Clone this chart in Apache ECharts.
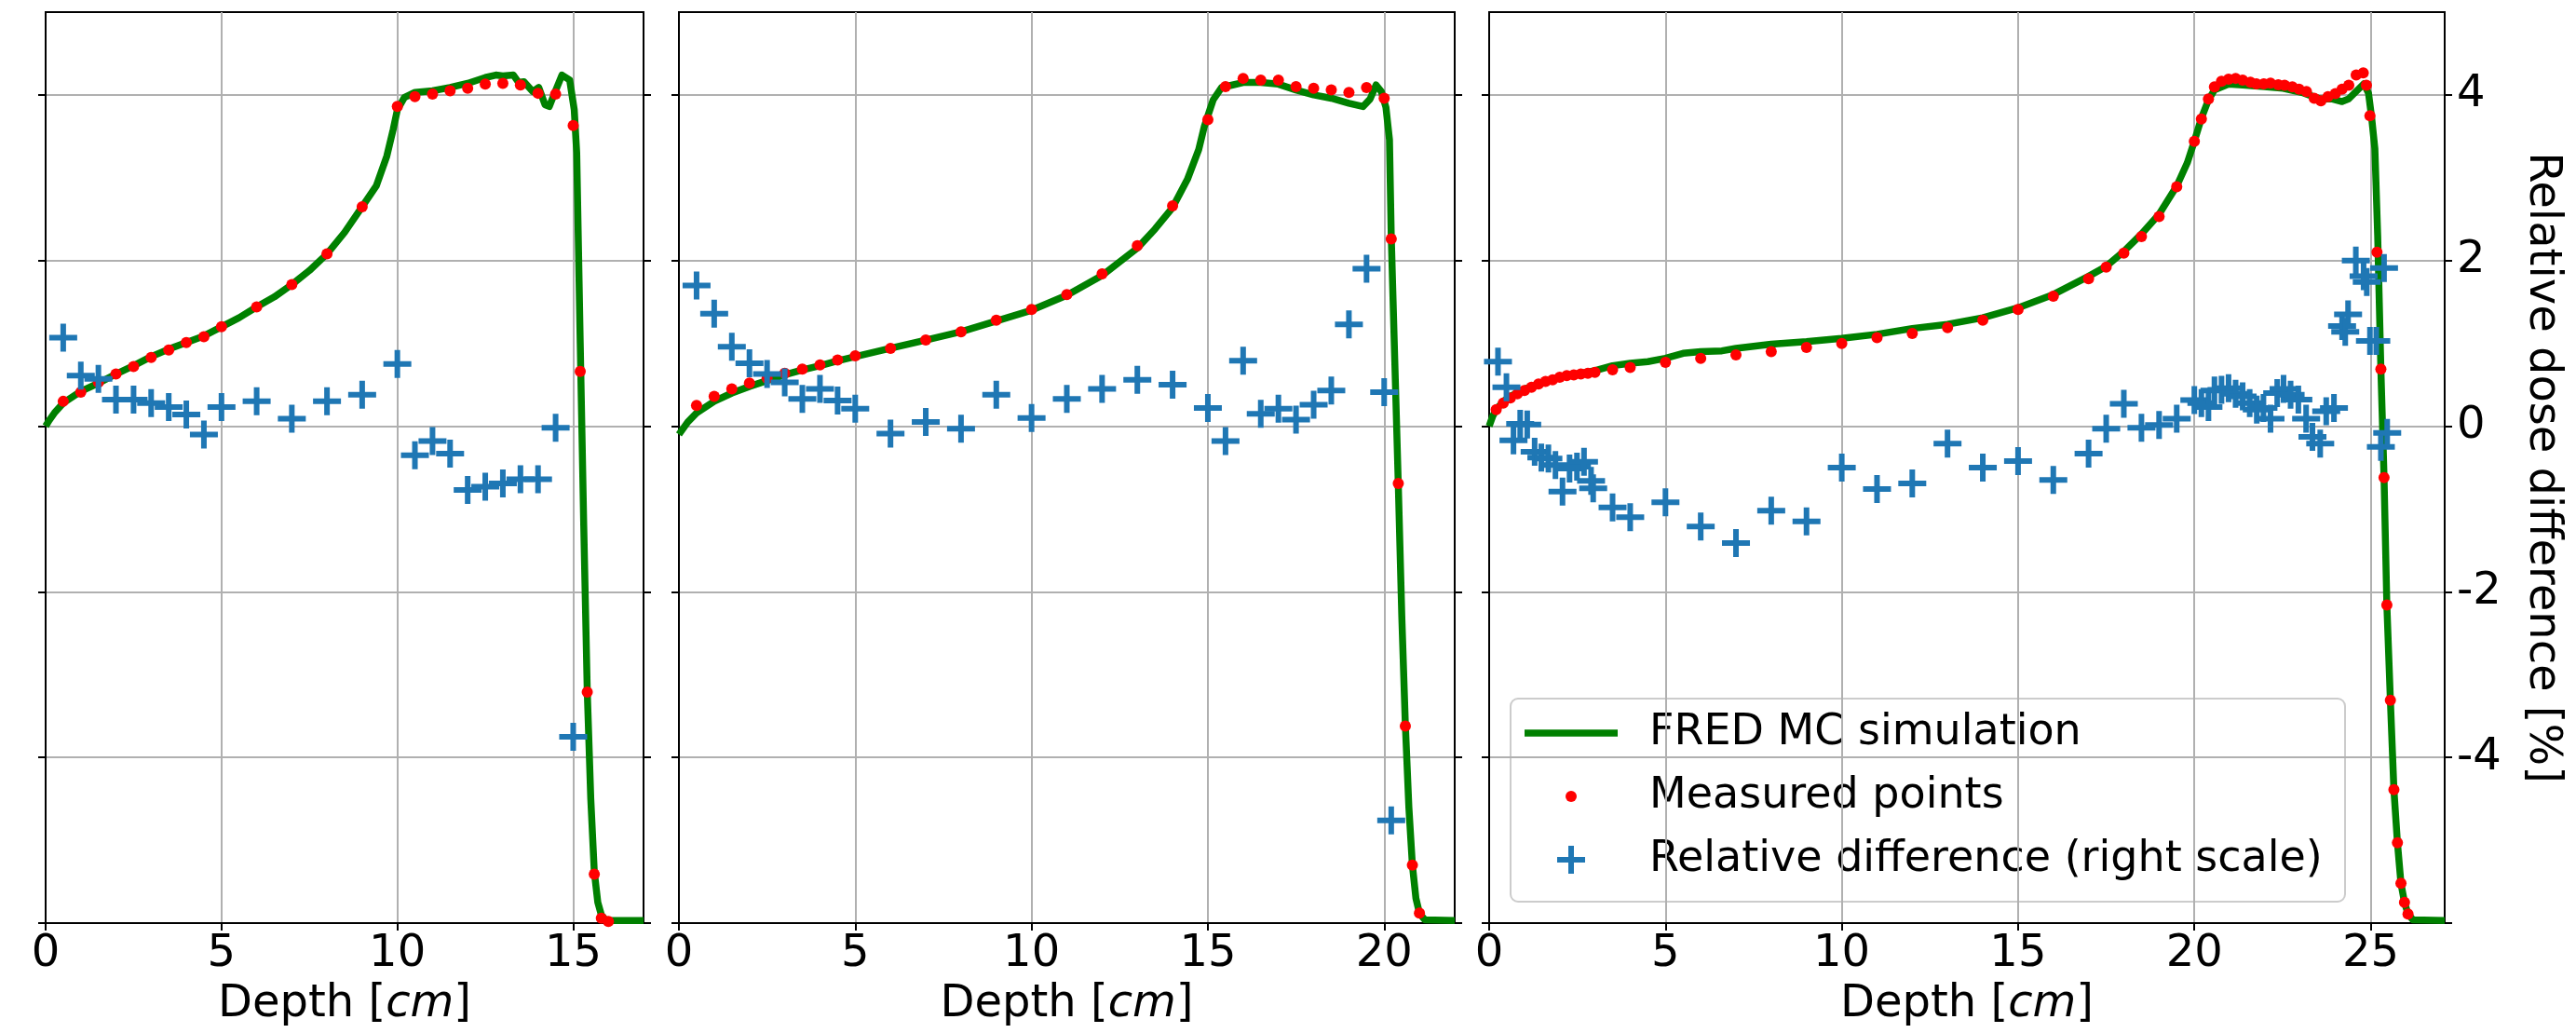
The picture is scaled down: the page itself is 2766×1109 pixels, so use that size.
<!DOCTYPE html>
<html>
<head>
<meta charset="utf-8">
<script src="https://cdn.jsdelivr.net/npm/echarts@6/dist/echarts.min.js"></script>
<style>
html,body{margin:0;padding:0;background:#fff;}
#chart{width:2766px;height:1109px;}
</style>
</head>
<body>
<div id="chart"></div>
<script>
// ---------- tick labels ----------
const p1XTicks = [0, 5, 10, 15];
const p2XTicks = [0, 5, 10, 15, 20];
const p3XTicks = [0, 5, 10, 15, 20, 25];
const doseTicks = [0, 0.2, 0.4, 0.6, 0.8, 1.0];
const diffTicks = [-6, -4, -2, 0, 2, 4];
const diffLabels = [-4, -2, 0, 2, 4];
const xMax = [17, 22, 27.1];

// ---------- panel 1 ----------
const p1SimDepth = [0, 0.1, 0.25, 0.5, 1, 1.5, 2, 2.5, 3, 3.5, 4, 4.5, 5, 5.5, 6, 6.5, 7, 7.5, 8, 8.5, 9, 9.4, 9.7, 9.88, 10.0, 10.2, 10.5, 11, 11.5, 12, 12.5, 12.8, 13.0, 13.3, 13.45, 13.6, 13.85, 14.02, 14.2, 14.32, 14.44, 14.68, 14.9, 15.03, 15.1, 15.2, 15.3, 15.4, 15.5, 15.6, 15.7, 15.8, 15.9, 16.0, 16.3, 17];
const p1SimDose = [0.600, 0.607, 0.616, 0.628, 0.642, 0.652, 0.663, 0.673, 0.684, 0.693, 0.701, 0.709, 0.720, 0.731, 0.744, 0.756, 0.771, 0.788, 0.808, 0.834, 0.865, 0.890, 0.926, 0.958, 0.982, 0.997, 1.003, 1.005, 1.009, 1.014, 1.021, 1.024, 1.023, 1.024, 1.015, 1.016, 1.004, 1.009, 0.988, 0.986, 0.999, 1.024, 1.018, 0.982, 0.93, 0.70, 0.48, 0.28, 0.15, 0.062, 0.025, 0.010, 0.005, 0.003, 0.003, 0.003];
const p1MeasDepth = [0.5, 1, 1.5, 2, 2.5, 3, 3.5, 4, 4.5, 5, 6, 7, 8, 9, 10, 10.5, 11, 11.5, 12, 12.5, 13, 13.5, 14, 14.5, 15, 15.2, 15.4, 15.6, 15.8, 16.0];
const p1MeasDose = [0.630, 0.641, 0.653, 0.663, 0.672, 0.683, 0.692, 0.701, 0.708, 0.720, 0.744, 0.771, 0.808, 0.865, 0.986, 0.998, 1.001, 1.005, 1.008, 1.013, 1.014, 1.012, 1.002, 1.001, 0.963, 0.666, 0.279, 0.059, 0.006, 0.002];
const p1DiffDepth = [0.5, 1, 1.5, 2, 2.5, 3, 3.5, 4, 4.5, 5, 6, 7, 8, 9, 10, 10.5, 11, 11.5, 12, 12.5, 13, 13.5, 14, 14.5, 15];
const p1Diff = [1.07, 0.61, 0.57, 0.32, 0.32, 0.28, 0.23, 0.14, -0.10, 0.23, 0.30, 0.09, 0.30, 0.38, 0.75, -0.35, -0.18, -0.33, -0.77, -0.73, -0.69, -0.64, -0.64, -0.02, -3.75];

// ---------- panel 2 ----------
const p2SimDepth = [0, 0.25, 0.5, 1, 1.5, 2, 2.5, 3, 3.5, 4, 4.5, 5, 6, 7, 8, 9, 10, 11, 12, 13, 13.5, 14, 14.42, 14.74, 14.9, 15.15, 15.39, 15.7, 16.0, 16.5, 17, 17.5, 18, 18.5, 19, 19.4, 19.6, 19.77, 19.92, 20.05, 20.15, 20.2, 20.3, 20.4, 20.5, 20.6, 20.7, 20.8, 20.9, 21.0, 21.15, 22];
const p2SimDose = [0.590, 0.605, 0.616, 0.630, 0.640, 0.648, 0.655, 0.662, 0.668, 0.673, 0.679, 0.684, 0.694, 0.704, 0.714, 0.727, 0.740, 0.758, 0.782, 0.815, 0.838, 0.864, 0.898, 0.934, 0.962, 0.994, 1.009, 1.012, 1.015, 1.015, 1.013, 1.006, 1.000, 0.996, 0.990, 0.986, 0.995, 1.012, 1.004, 0.985, 0.946, 0.83, 0.68, 0.53, 0.37, 0.24, 0.14, 0.07, 0.03, 0.012, 0.004, 0.003];
const p2MeasDepth = [0.5, 1, 1.5, 2, 2.5, 3, 3.5, 4, 4.5, 5, 6, 7, 8, 9, 10, 11, 12, 13, 14, 15, 15.5, 16, 16.5, 17, 17.5, 18, 18.5, 19, 19.5, 20, 20.2, 20.4, 20.6, 20.8, 21.0];
const p2MeasDose = [0.625, 0.636, 0.645, 0.652, 0.658, 0.664, 0.669, 0.674, 0.680, 0.685, 0.694, 0.704, 0.714, 0.728, 0.741, 0.759, 0.784, 0.818, 0.866, 0.970, 1.010, 1.020, 1.018, 1.018, 1.010, 1.008, 1.006, 1.003, 1.009, 0.996, 0.826, 0.531, 0.238, 0.070, 0.012];
const p2DiffDepth = [0.5, 1, 1.5, 2, 2.5, 3, 3.5, 4, 4.5, 5, 6, 7, 8, 9, 10, 11, 12, 13, 14, 15, 15.5, 16, 16.5, 17, 17.5, 18, 18.5, 19, 19.5, 20, 20.2];
const p2Diff = [1.70, 1.36, 0.96, 0.76, 0.63, 0.53, 0.33, 0.45, 0.31, 0.21, -0.09, 0.05, -0.03, 0.38, 0.10, 0.33, 0.45, 0.56, 0.50, 0.22, -0.18, 0.79, 0.15, 0.21, 0.08, 0.26, 0.43, 1.23, 1.90, 0.41, -4.76];

// ---------- panel 3 ----------
const p3SimDepth = [0, 0.1, 0.2, 0.4, 0.6, 1.0, 1.5, 2.0, 2.5, 3.0, 3.5, 4.0, 4.5, 5.0, 5.5, 6.0, 6.6, 7, 8, 9, 10, 11, 12, 13, 14, 15, 16, 17, 17.5, 18, 18.5, 19, 19.5, 19.8, 20, 20.2, 20.4, 20.57, 20.97, 21.37, 21.98, 22.52, 23.05, 23.57, 23.92, 24.19, 24.37, 24.63, 24.81, 24.94, 25.03, 25.12, 25.2, 25.29, 25.38, 25.46, 25.56, 25.66, 25.76, 25.86, 25.96, 26.06, 26.2, 27.1];
const p3SimDose = [0.600, 0.612, 0.620, 0.630, 0.636, 0.645, 0.652, 0.6595, 0.663, 0.667, 0.673, 0.676, 0.678, 0.682, 0.688, 0.690, 0.691, 0.694, 0.699, 0.702, 0.706, 0.711, 0.718, 0.723, 0.731, 0.743, 0.759, 0.781, 0.793, 0.811, 0.832, 0.856, 0.890, 0.918, 0.944, 0.972, 0.994, 1.006, 1.013, 1.012, 1.010, 1.008, 1.003, 0.995, 0.995, 0.992, 0.995, 1.006, 1.0135, 1.002, 0.972, 0.935, 0.83, 0.669, 0.538, 0.384, 0.269, 0.161, 0.097, 0.048, 0.025, 0.011, 0.004, 0.003];
const p3MeasDepth = [0.2, 0.4, 0.6, 0.8, 1.0, 1.2, 1.4, 1.6, 1.8, 2.0, 2.2, 2.4, 2.6, 2.8, 3.0, 3.5, 4, 5, 6, 7, 8, 9, 10, 11, 12, 13, 14, 15, 16, 17, 17.5, 18, 18.5, 19, 19.5, 20, 20.2, 20.4, 20.57, 20.77, 20.97, 21.17, 21.37, 21.59, 21.76, 21.97, 22.16, 22.38, 22.56, 22.78, 22.97, 23.18, 23.40, 23.59, 23.79, 24.0, 24.19, 24.38, 24.59, 24.79, 24.88, 24.98, 25.18, 25.29, 25.38, 25.46, 25.56, 25.66, 25.76, 25.86, 25.96, 26.06];
const p3MeasDose = [0.620, 0.628, 0.634, 0.639, 0.643, 0.647, 0.651, 0.654, 0.656, 0.659, 0.661, 0.662, 0.663, 0.664, 0.665, 0.668, 0.671, 0.677, 0.682, 0.686, 0.690, 0.695, 0.700, 0.707, 0.712, 0.719, 0.728, 0.741, 0.757, 0.778, 0.792, 0.809, 0.829, 0.853, 0.889, 0.944, 0.971, 0.995, 1.0098, 1.0165, 1.019, 1.020, 1.018, 1.0154, 1.0135, 1.0135, 1.0143, 1.0124, 1.0116, 1.0098, 1.0068, 1.004, 0.996, 0.993, 0.998, 1.0015, 1.0068, 1.0116, 1.024, 1.0266, 1.0116, 0.975, 0.810, 0.669, 0.538, 0.384, 0.269, 0.161, 0.097, 0.048, 0.025, 0.011];
const p3DiffDepth = [0.25, 0.49, 0.69, 0.88, 1.08, 1.29, 1.48, 1.68, 1.88, 2.08, 2.28, 2.49, 2.69, 2.89, 2.95, 3.5, 4, 5, 6, 7, 8, 9, 10, 11, 12, 13, 14, 15, 16, 17, 17.5, 18, 18.5, 19, 19.5, 20, 20.2, 20.4, 20.57, 20.77, 20.97, 21.17, 21.37, 21.57, 21.77, 21.96, 22.16, 22.35, 22.53, 22.73, 22.95, 23.17, 23.35, 23.57, 23.74, 23.96, 24.19, 24.28, 24.36, 24.58, 24.8, 24.89, 24.98, 25.16, 25.29, 25.38, 25.47];
const p3Diff = [0.78, 0.47, -0.17, 0.03, 0.02, -0.31, -0.38, -0.39, -0.47, -0.79, -0.51, -0.49, -0.43, -0.66, -0.75, -0.98, -1.10, -0.92, -1.21, -1.41, -1.02, -1.15, -0.50, -0.76, -0.69, -0.21, -0.50, -0.42, -0.65, -0.33, -0.03, 0.27, -0.02, 0.015, 0.09, 0.315, 0.28, 0.23, 0.43, 0.44, 0.46, 0.39, 0.36, 0.28, 0.20, 0.22, 0.09, 0.40, 0.45, 0.38, 0.32, 0.09, -0.13, -0.21, 0.18, 0.22, 1.21, 1.14, 1.35, 2.0, 1.81, 1.74, 1.03, 1.03, -0.25, 1.91, -0.08];

const seriesNames = ['FRED MC simulation', 'Measured points', 'Relative difference (right scale)'];

// ---------- build ----------
const FONT = 'DejaVu Sans';
const zip = (xs, ys) => xs.map((x, i) => [x, ys[i]]);
const CROSS = 'path://M0,12 H30 V18 H0 Z M12,0 H18 V30 H12 Z';
const GREEN = '#008000', RED = '#ff0000', BLUE = '#1f77b4';
const GRID_COLOR = '#b0b0b0';

const panels = [
  {left: 49, width: 642, ticks: p1XTicks, sim: zip(p1SimDepth, p1SimDose), meas: zip(p1MeasDepth, p1MeasDose), diff: zip(p1DiffDepth, p1Diff)},
  {left: 729, width: 833, ticks: p2XTicks, sim: zip(p2SimDepth, p2SimDose), meas: zip(p2MeasDepth, p2MeasDose), diff: zip(p2DiffDepth, p2Diff)},
  {left: 1599, width: 1026, ticks: p3XTicks, sim: zip(p3SimDepth, p3SimDose), meas: zip(p3MeasDepth, p3MeasDose), diff: zip(p3DiffDepth, p3Diff)}
];

const axisLineStyle = {color: '#000', width: 2};
const grid = [], xAxis = [], yAxis = [], series = [];
panels.forEach((p, i) => {
  grid.push({left: p.left, top: 13, width: p.width, height: 978, show: true,
    borderColor: '#000', borderWidth: 2, backgroundColor: 'rgba(0,0,0,0)'});
  xAxis.push({
    type: 'value', gridIndex: i, min: 0, max: xMax[i], interval: 5, position: 'bottom',
    axisLine: {show: true, onZero: false, lineStyle: axisLineStyle},
    axisTick: {show: true, inside: false, length: 8, lineStyle: axisLineStyle, customValues: p.ticks},
    axisLabel: {show: true, customValues: p.ticks, fontSize: 48, color: '#000', fontFamily: FONT, margin: 10,
      formatter: v => (v % 5 === 0 ? String(v) : '')},
    splitLine: {show: true, lineStyle: {color: GRID_COLOR, width: 2}},
    name: '{a|Depth [}{b|cm}{a|]}', nameLocation: 'middle', nameGap: 64,
    nameTextStyle: {rich: {
      a: {fontSize: 48, fontFamily: FONT, color: '#000'},
      b: {fontSize: 48, fontFamily: FONT, fontStyle: 'italic', color: '#000'}
    }}
  });
  yAxis.push({
    type: 'value', gridIndex: i, position: 'left', min: 0, max: 1.1, interval: 0.2,
    axisLine: {show: true, onZero: false, lineStyle: axisLineStyle},
    axisTick: {show: true, inside: false, length: 8, lineStyle: axisLineStyle, customValues: doseTicks},
    axisLabel: {show: false},
    splitLine: {show: true, lineStyle: {color: GRID_COLOR, width: 2}}
  });
  const right = {
    type: 'value', gridIndex: i, position: 'right', min: -6, max: 5, interval: 2,
    axisLine: {show: true, onZero: false, lineStyle: axisLineStyle},
    axisTick: {show: true, inside: false, length: 8, lineStyle: axisLineStyle, customValues: diffTicks},
    axisLabel: {show: i === 2, customValues: diffLabels,
      fontSize: 48, color: '#000', fontFamily: FONT, margin: 13,
      formatter: v => (diffLabels.indexOf(v) >= 0 ? String(v) : '')},
    splitLine: {show: false}
  };
  if (i === 2) {
    right.name = 'Relative dose difference [%]';
    right.nameLocation = 'middle';
    right.nameRotate = -90;
    right.nameGap = 80;
    right.nameTextStyle = {fontSize: 48, fontFamily: FONT, color: '#000'};
  }
  yAxis.push(right);

  series.push({name: seriesNames[0], type: 'line', xAxisIndex: i, yAxisIndex: 2 * i, data: p.sim,
    symbol: 'none', showSymbol: false, smooth: false, z: 2,
    lineStyle: {color: GREEN, width: 7.5, join: 'round'}, itemStyle: {color: GREEN}});
  series.push({name: seriesNames[1], type: 'scatter', xAxisIndex: i, yAxisIndex: 2 * i, data: p.meas,
    symbol: 'circle', symbolSize: 12, z: 3, itemStyle: {color: RED, opacity: 1}});
  series.push({name: seriesNames[2], type: 'scatter', xAxisIndex: i, yAxisIndex: 2 * i + 1, data: p.diff,
    symbol: CROSS, symbolSize: 30, z: 4, itemStyle: {color: BLUE, opacity: 1}});
});

// legend drawn as graphic (matplotlib-like box)
const LX = 1622, LY = 750, LW = 896, LH = 218;
const rows = [787, 855, 923];
const legendGraphic = {
  type: 'group', z: 100, children: [
    {type: 'rect', shape: {x: LX, y: LY, width: LW, height: LH, r: 8},
      style: {fill: 'rgba(255,255,255,0.8)', stroke: '#cccccc', lineWidth: 2}},
    {type: 'line', shape: {x1: 1637, y1: rows[0], x2: 1737, y2: rows[0]},
      style: {stroke: GREEN, lineWidth: 7.5}},
    {type: 'circle', shape: {cx: 1687, cy: rows[1], r: 6}, style: {fill: RED}},
    {type: 'rect', shape: {x: 1672, y: rows[2] - 3, width: 30, height: 6}, style: {fill: BLUE}},
    {type: 'rect', shape: {x: 1684, y: rows[2] - 15, width: 6, height: 30}, style: {fill: BLUE}},
  ].concat(seriesNames.map((n, k) => ({
    type: 'text', x: 1771, y: rows[k],
    style: {text: n, fontSize: 46, fontFamily: FONT, fill: '#000', verticalAlign: 'middle', align: 'left'}
  })))
};

const chart = echarts.init(document.getElementById('chart'), null, {renderer: 'canvas'});
chart.setOption({
  animation: false,
  backgroundColor: '#fff',
  textStyle: {fontFamily: FONT},
  grid, xAxis, yAxis, series,
  graphic: [legendGraphic]
});
</script>
</body>
</html>
